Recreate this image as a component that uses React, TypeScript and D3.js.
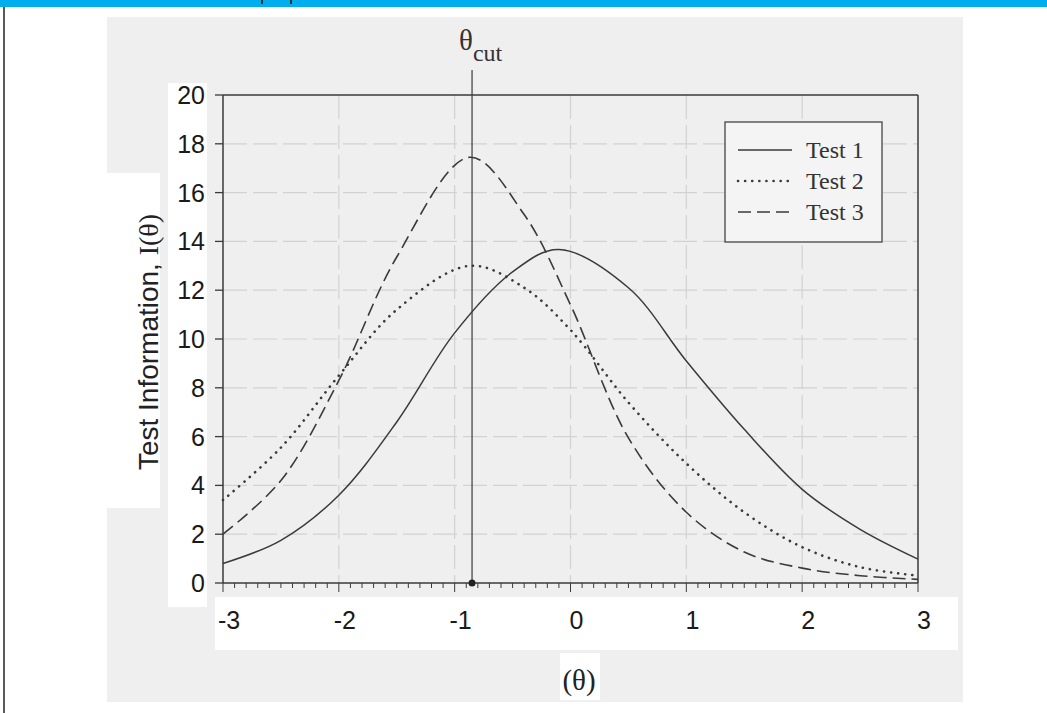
import React from 'react';
import * as d3 from 'd3';

const test1Theta = [-3, -2.5, -2, -1.5, -1, -0.5, -0.1, 0.5, 1, 1.5, 2, 2.5, 3];
const test1 = [0.8, 1.75, 3.6, 6.6, 10.25, 12.75, 13.67, 12.1, 9.1, 6.3, 3.84, 2.2, 0.98];
const test2Theta = [-3, -2.5, -2, -1.5, -0.87, -0.4, 0, 0.5, 1, 1.5, 2, 2.5, 3];
const test2 = [3.4, 5.55, 8.5, 11.2, 13.0, 12.1, 10.37, 7.4, 4.9, 2.9, 1.47, 0.65, 0.3];
const test3Theta = [-3, -2.5, -2, -1.5, -0.87, -0.4, 0, 0.5, 1, 1.5, 2, 2.5, 3];
const test3 = [2.0, 4.2, 8.3, 13.36, 17.45, 15.1, 11.4, 5.95, 2.9, 1.27, 0.61, 0.3, 0.15];
const seriesNames = ['Test 1', 'Test 2', 'Test 3'];
const xTicks = [-3, -2, -1, 0, 1, 2, 3];
const yTicks = [0, 2, 4, 6, 8, 10, 12, 14, 16, 18, 20];
const thetaCut = -0.85;

const W = 1047;
const H = 713;
const ink = '#3a3a3a';
const sans = '"Liberation Sans", Arial, sans-serif';
const serif = '"Liberation Serif", "Times New Roman", serif';

const dashes = [null, '0.1 7', '13 6'];
const widths = [1.5, 2.6, 1.6];

export default function App() {
    const x = d3.scaleLinear().domain([-3, 3]).range([223, 918]);
    const y = d3.scaleLinear().domain([0, 20]).range([583, 95]);

    const series = [
        {name: seriesNames[0], t: test1Theta, v: test1},
        {name: seriesNames[1], t: test2Theta, v: test2},
        {name: seriesNames[2], t: test3Theta, v: test3},
    ];
    const line = d3.line<[number, number]>()
        .x(d => x(d[0]))
        .y(d => y(d[1]))
        .curve(d3.curveCatmullRom.alpha(0.5));

    const minor = d3.range(-30, 31).map(v => v / 10);

    return (
        <svg width={W} height={H} style={{position: 'absolute', left: 0, top: 0, background: '#fff'}}>
            {/* page furniture from the scan */}
            <rect x={0} y={0} width={W} height={7} fill="#00aeef"/>
            <rect x={261} y={0} width={2} height={4} fill="#333"/>
            <rect x={290} y={0} width={2} height={4} fill="#333"/>
            <line x1={4} x2={4} y1={7} y2={H} stroke="#222" strokeWidth={1.5}/>
            <rect x={107} y={17} width={856} height={685} fill="#efefef"/>

            {/* white patches behind labels */}
            <rect x={168} y={83} width={39} height={524} fill="#fff"/>
            <rect x={107} y={173} width={53} height={335} fill="#fff"/>
            <rect x={215} y={597} width={743} height={53} fill="#fff"/>
            <rect x={560} y={653} width={40} height={47} fill="#fff"/>

            {/* grid */}
            {yTicks.filter(t => t > 0 && t < 20).map(t => (
                <line key={'gy' + t} x1={x(-3)} x2={x(3)} y1={y(t)} y2={y(t)}
                      stroke="#d2d2d2" strokeWidth={1.2} strokeDasharray="24 6"/>
            ))}
            {xTicks.filter(t => t > -3 && t < 3).map(t => (
                <line key={'gx' + t} x1={x(t)} x2={x(t)} y1={y(20)} y2={y(0)}
                      stroke="#d2d2d2" strokeWidth={1.2} strokeDasharray="24 6"/>
            ))}

            {/* frame */}
            <line x1={x(-3)} x2={x(3)} y1={y(20)} y2={y(20)} stroke={ink} strokeWidth={1.5}/>
            <line x1={x(3)} x2={x(3)} y1={y(20)} y2={y(0)} stroke={ink} strokeWidth={1.5}/>
            <line x1={x(-3)} x2={x(-3)} y1={y(20)} y2={y(0)} stroke={ink} strokeWidth={1.5}/>
            <line x1={x(-3)} x2={x(3)} y1={y(0)} y2={y(0)} stroke={ink} strokeWidth={1.5}/>

            {/* y ticks */}
            {yTicks.map(t => (
                <g key={'yt' + t}>
                    <line x1={x(-3) - 8} x2={x(-3)} y1={y(t)} y2={y(t)} stroke={ink} strokeWidth={1.3}/>
                    <text x={205} y={y(t)} dy="0.36em" textAnchor="end"
                          fontFamily={sans} fontSize={25} fill="#1a1a1a">{t}</text>
                </g>
            ))}

            {/* x ticks */}
            {minor.map(t => (
                <line key={'mx' + t} x1={x(t)} x2={x(t)} y1={y(0)}
                      y2={y(0) + (Math.abs(t - Math.round(t)) < 1e-6 ? 9 : 5)}
                      stroke={ink} strokeWidth={1}/>
            ))}
            {xTicks.map(t => (
                <text key={'xt' + t} x={x(t) + 6} y={629} textAnchor="middle"
                      fontFamily={sans} fontSize={25} fill="#1a1a1a">{t}</text>
            ))}

            {/* curves */}
            {series.map((s, i) => (
                <path key={s.name} d={line(s.v.map((v, j) => [s.t[j], v] as [number, number])) || ''}
                      fill="none" stroke={ink}
                      strokeWidth={widths[i]} strokeDasharray={dashes[i] || undefined}
                      strokeLinecap={i === 1 ? 'round' : 'butt'}/>
            ))}

            {/* theta cut */}
            <line x1={x(thetaCut)} x2={x(thetaCut)} y1={y(0)} y2={70} stroke={ink} strokeWidth={1.2}/>
            <circle cx={x(thetaCut)} cy={y(0)} r={3.5} fill="#222"/>
            <text x={x(thetaCut) - 13} y={50} fontFamily={serif} fontSize={29} fill="#333">
                θ<tspan fontSize={24} dy={11}>cut</tspan>
            </text>

            {/* legend */}
            <rect x={725} y={122} width={157} height={120} fill="#f4f4f4" stroke="#444" strokeWidth={1.3}/>
            {seriesNames.map((n, i) => (
                <g key={'lg' + n} transform={`translate(0,${150 + i * 31})`}>
                    <line x1={738} x2={792} y1={0} y2={0} stroke={ink} strokeWidth={widths[i]}
                          strokeDasharray={dashes[i] || undefined}
                          strokeLinecap={i === 1 ? 'round' : 'butt'}/>
                    <text x={806} y={8} fontFamily={serif} fontSize={24} fill="#333">{n}</text>
                </g>
            ))}

            {/* axis titles */}
            <text transform="translate(158,342) rotate(-90)" textAnchor="middle"
                  fontFamily={sans} fontSize={28} fill="#222">
                Test Information, <tspan fontFamily={serif}>I(θ)</tspan>
            </text>
            <text x={579} y={690} textAnchor="middle" fontFamily={serif} fontSize={29} fill="#222">(θ)</text>
        </svg>
    );
}
